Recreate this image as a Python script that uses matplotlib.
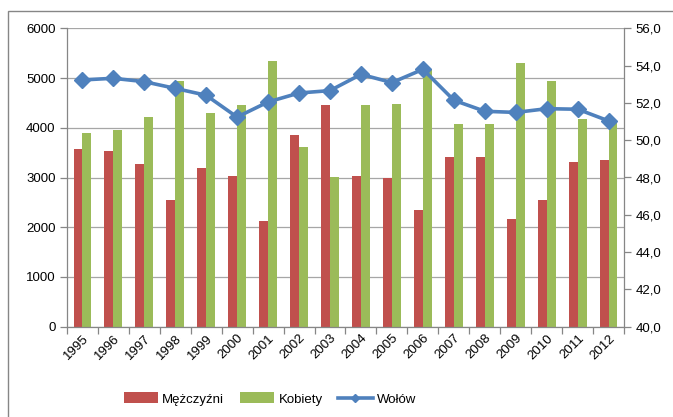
import matplotlib
matplotlib.use("Agg")
import matplotlib.pyplot as plt
import numpy as np
from matplotlib.patches import Rectangle
from matplotlib.ticker import FixedLocator, FuncFormatter

years = [str(y) for y in range(1995, 2013)]
men = [3572, 3525, 3264, 2540, 3190, 3023, 2118, 3847, 4450, 3023, 2989, 2339, 3418, 3418, 2165, 2540, 3311, 3358]
women = [3887, 3954, 4209, 4946, 4296, 4464, 5349, 3619, 3016, 4450, 4484, 5154, 4068, 4068, 5302, 4946, 4176, 4129]
wolow = [53.23, 53.32, 53.14, 52.78, 52.41, 51.24, 52.05, 52.53, 52.66, 53.53, 53.09, 53.80, 52.14, 51.55, 51.49, 51.69, 51.66, 51.03]
left_ticks = [0, 1000, 2000, 3000, 4000, 5000, 6000]
right_ticks = [40, 42, 44, 46, 48, 50, 52, 54, 56]

plt.rcParams['font.family'] = ['Liberation Sans', 'DejaVu Sans']

W, H = 673, 417
fig = plt.figure(figsize=(W/100, H/100), dpi=100)
fig.patches.append(Rectangle((8/W, -0.1), 1.2, 1 - 11/H + 0.1, transform=fig.transFigure,
                             fill=False, edgecolor='#868686', linewidth=1.0))

ax = fig.add_axes([66.7/W, 1 - 326.7/H, (624.3 - 66.7)/W, (326.7 - 28.3)/H])
x = np.arange(len(years))
bw = 0.28
ax.bar(x - bw/2, men, bw, color='#C0504D', label='Mężczyźni', zorder=2)
ax.bar(x + bw/2, women, bw, color='#9BBB59', label='Kobiety', zorder=2)
ax.set_ylim(0, 6000)
ax.set_xlim(-0.5, len(years) - 0.5)
ax.yaxis.set_major_locator(FixedLocator(left_ticks))
ax.grid(axis='y', color='#a6a6a6', linewidth=0.9, zorder=0)
ax.set_axisbelow(True)
ax.set_xticks(x)
ax.set_xticklabels(years, rotation=45, ha='right', rotation_mode='anchor', fontsize=9.5)
ax.tick_params(axis='x', length=0, pad=4)
ax.set_xticks(np.arange(-0.5, len(years)), minor=True)
ax.tick_params(axis='x', which='minor', length=5, color='#868686', width=0.9)
ax.tick_params(axis='y', labelsize=9.5, length=5, color='#868686', width=0.9, pad=3)
for s in ['top', 'right']:
    ax.spines[s].set_visible(False)
for s in ['left', 'bottom']:
    ax.spines[s].set_color('#868686')
    ax.spines[s].set_linewidth(0.9)

ax2 = ax.twinx()
ax2.plot(x, wolow, color='#4F81BD', linewidth=2.6, marker='D', markersize=8,
         label='Wołów', zorder=3)
ax2.set_ylim(40, 56)
ax2.yaxis.set_major_locator(FixedLocator(right_ticks))
ax2.yaxis.set_major_formatter(FuncFormatter(lambda v, p: f"{v:.1f}".replace('.', ',')))
ax2.tick_params(axis='y', labelsize=9.5, length=5, color='#868686', width=0.9, pad=3)
for s in ['top', 'left', 'bottom']:
    ax2.spines[s].set_visible(False)
ax2.spines['right'].set_color('#868686')
ax2.spines['right'].set_linewidth(0.9)

h1, l1 = ax.get_legend_handles_labels()
h2, l2 = ax2.get_legend_handles_labels()
fig.legend(h1 + h2, l1 + l2, loc='center', bbox_to_anchor=(270/W, 1 - 399/H), ncol=3,
           frameon=False, fontsize=9.5, handlelength=2.6, handleheight=0.9,
           columnspacing=1.2, handletextpad=0.3, borderaxespad=0, markerscale=0.55)

fig.savefig('out.png', dpi=100)
